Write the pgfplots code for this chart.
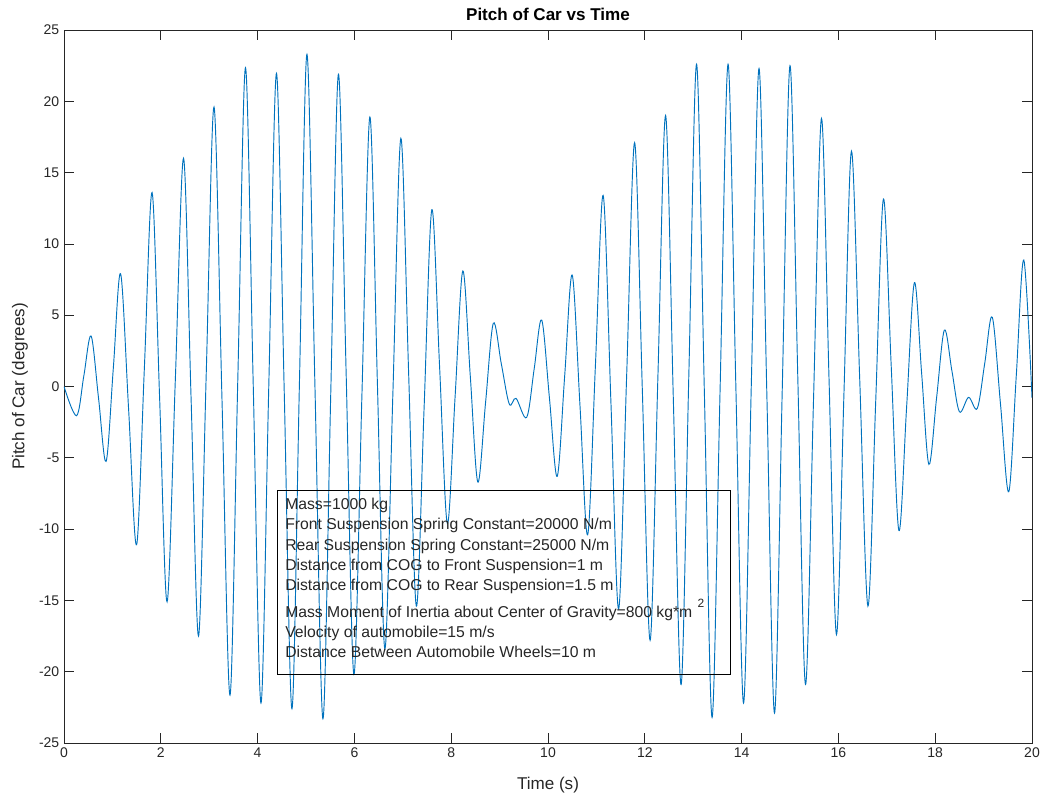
\documentclass[border=0pt]{standalone}
\usepackage{fontspec}
\setmainfont{Liberation Sans}
\usepackage{pgfplots}
\pgfplotsset{compat=1.18}
\definecolor{mblue}{rgb}{0,0.447,0.741}
\definecolor{axgray}{gray}{0.15}
\begin{document}
\begin{tikzpicture}
\begin{axis}[
 scale only axis, width=726pt, height=534.75pt,
 xmin=0,xmax=20,ymin=-25,ymax=25,
 xtick={0,2,...,20}, ytick={-25,-20,...,25},
 tick align=inside, major tick length=7.3pt,
 axis line style={axgray, line width=0.6pt},
 tick style={axgray, line width=0.6pt},
 ticklabel style={font=\fontsize{10.5}{12}\selectfont, text=axgray},
 /pgf/number format/assume math mode=true,
 xlabel={Time (s)}, ylabel={Pitch of Car (degrees)},
 label style={font=\fontsize{12.8}{14}\selectfont, text=axgray},
 xlabel style={yshift=-8pt},
 ylabel style={yshift=1.5pt},
 title={\textbf{Pitch of Car vs Time}},
 title style={font=\fontsize{12.8}{14}\selectfont, yshift=-2.5pt},
 clip=true,
]
\addplot[mblue, line width=0.7pt, smooth, tension=0.55] coordinates {
(0.00,0) (0.26,-2.05) (0.41,0.75) (0.56,3.54) (0.715,-0.86) (0.87,-5.25)
(1.02,1.33) (1.17,7.9) (1.335,-1.6) (1.50,-11.1) (1.66,1.25) (1.82,13.6)
(1.975,-0.75) (2.13,-15.1) (2.30,0.45) (2.47,16.0) (2.625,-0.75) (2.78,-17.5)
(2.94,1.05) (3.10,19.6) (3.265,-1.0) (3.43,-21.65) (3.59,0.35) (3.75,22.36)
(3.91,0.08) (4.07,-22.2) (4.23,-0.12) (4.39,21.96) (4.55,-0.32) (4.71,-22.6)
(4.865,0.35) (5.02,23.3) (5.185,0) (5.35,-23.3) (5.51,-0.7) (5.67,21.9)
(5.83,0.85) (5.99,-20.2) (6.155,-0.65) (6.32,18.9) (6.475,0.25) (6.63,-18.4)
(6.795,-0.5) (6.96,17.4) (7.12,1.0) (7.28,-15.4) (7.44,-1.5) (7.60,12.4)
(7.76,1.4) (7.92,-9.6) (8.08,-0.75) (8.24,8.1) (8.395,0.7) (8.55,-6.7)
(8.71,-1.13) (8.87,4.43) (9.035,1.6) (9.20,-1.23) (9.34,-0.83) (9.56,-2.16)
(9.715,1.25) (9.87,4.66) (10.03,-0.82) (10.19,-6.3) (10.345,0.76) (10.50,7.82)
(10.66,-1.29) (10.82,-10.4) (10.98,1.5) (11.14,13.4) (11.30,-1.1) (11.46,-15.6)
(11.625,0.75) (11.79,17.1) (11.95,-0.35) (12.11,-17.8) (12.27,0.6) (12.43,19.0)
(12.59,-0.95) (12.75,-20.9) (12.91,0.85) (13.07,22.6) (13.23,-0.3) (13.39,-23.2)
(13.555,-0.3) (13.72,22.6) (13.88,0.2) (14.04,-22.2) (14.20,0.05) (14.36,22.3)
(14.52,-0.3) (14.68,-22.9) (14.84,-0.2) (15.00,22.5) (15.16,0.8) (15.32,-20.9)
(15.485,-1.05) (15.65,18.8) (15.805,0.7) (15.96,-17.4) (16.115,-0.45) (16.27,16.5)
(16.44,0.55) (16.61,-15.4) (16.77,-1.13) (16.93,13.15) (17.09,1.53) (17.25,-10.1)
(17.41,-1.41) (17.57,7.28) (17.72,0.91) (17.87,-5.46) (18.03,-0.75) (18.19,3.96)
(18.345,1.1) (18.50,-1.77) (18.69,-0.76) (18.87,-1.53) (19.025,1.66) (19.18,4.85)
(19.35,-1.27) (19.52,-7.38) (19.675,0.75) (19.83,8.87) (20.00,-0.8)
};
\draw[black, line width=0.6pt] (axis cs:4.40,-7.26) rectangle (axis cs:13.76,-20.16);
\begin{scope}[every node/.style={anchor=base west, inner sep=0pt, font=\fontsize{11.8}{13}\selectfont, text=axgray}]
\node at (axis cs:4.566,-8.66) {Mass=1000 kg};
\node at (axis cs:4.566,-10.06) {Front Suspension Spring Constant=20000 N/m};
\node at (axis cs:4.566,-11.47) {Rear Suspension Spring Constant=25000 N/m};
\node at (axis cs:4.566,-12.92) {Distance from COG to Front Suspension=1 m};
\node at (axis cs:4.566,-14.34) {Distance from COG to Rear Suspension=1.5 m};
\node at (axis cs:4.566,-16.18) {Mass Moment of Inertia about Center of Gravity=800 kg*m\,\,\raisebox{0.6em}{\fontsize{9}{10}\selectfont 2}};
\node at (axis cs:4.566,-17.59) {Velocity of automobile=15 m/s};
\node at (axis cs:4.566,-18.99) {Distance Between Automobile Wheels=10 m};
\end{scope}
\end{axis}
\pgfresetboundingbox
\path[use as bounding box] (-48pt,-40.5pt) rectangle (734.25pt,557.25pt);
\end{tikzpicture}
\end{document}
